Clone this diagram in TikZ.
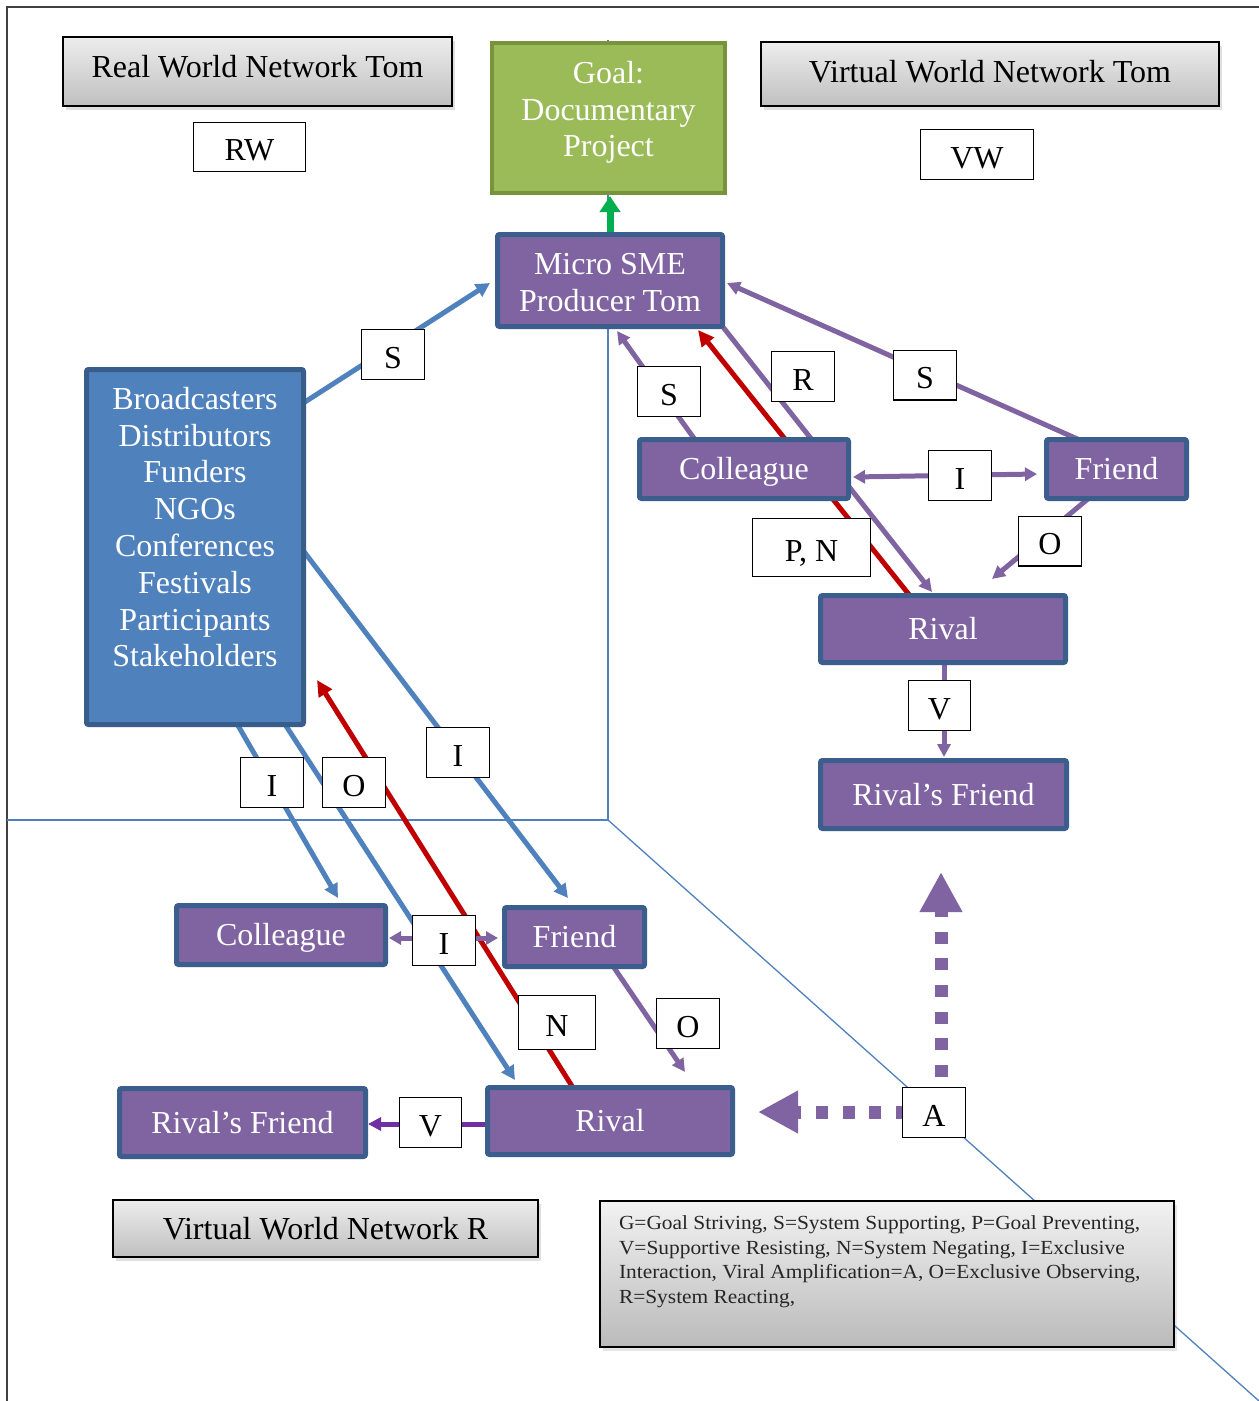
\documentclass[tikz,border=0pt]{standalone}
\usepackage{fontspec}
\setmainfont{Liberation Serif}
\newfontfamily\legendfont[FakeStretch=1.07]{Liberation Serif}
\usetikzlibrary{arrows.meta,calc,shadows,backgrounds}
\definecolor{purp}{HTML}{8064A2}
\definecolor{pborder}{HTML}{3B5E8C}
\definecolor{bluef}{HTML}{4F81BD}
\definecolor{blueb}{HTML}{385D8A}
\definecolor{greenf}{HTML}{9BBB59}
\definecolor{greenb}{HTML}{77933C}
\definecolor{redl}{HTML}{C00000}
\definecolor{greenl}{HTML}{00B050}
\definecolor{darkpurp}{HTML}{7030A0}
\definecolor{framec}{HTML}{404040}
\newcommand{\fbig}{\fontsize{32}{36.8}\selectfont}
\newcommand{\fsmall}{\legendfont\fontsize{20}{24.5}\selectfont}
\begin{document}
\begin{tikzpicture}[x=1pt,y=-1pt,
  pbox/.style={draw=pborder,line width=5pt,fill=purp,text=white,font=\fbig,inner sep=0pt,rounded corners=2pt,text height=21.5pt,text depth=0pt},
  pboxm/.style={draw=pborder,line width=5pt,fill=purp,text=white,font=\fbig,inner sep=0pt,rounded corners=2pt},
  bbox/.style={draw=blueb,line width=5pt,fill=bluef,text=white,font=\fbig,inner sep=0pt,rounded corners=2pt},
  gbox/.style={draw=greenb,line width=4pt,fill=greenf,text=white,font=\fbig,inner sep=0pt},
  lab/.style={draw=black,line width=1.3pt,fill=white,font=\fbig,inner sep=0pt,text height=27pt,text depth=0pt,minimum width=62.7pt,minimum height=49.7pt},
  ttl/.style={draw=black,line width=2pt,top color=black!7,bottom color=black!25,font=\fbig,inner sep=0pt,text height=21.5pt,drop shadow={shadow xshift=3pt,shadow yshift=-4pt,opacity=0.25}},
  bl/.style={bluef,line width=5pt,-{Triangle[length=14pt,width=14pt]}},
  pl/.style={purp,line width=5pt,-{Triangle[length=13pt,width=13pt]}},
  pll/.style={purp,line width=5pt,{Triangle[length=12pt,width=13pt]}-{Triangle[length=12pt,width=13pt]}},
  rl/.style={redl,line width=5pt,-{Triangle[length=16pt,width=15pt]}},
  divl/.style={bluef,line width=1.3pt},
  dotsarrow/.style={purp,line width=13pt,dash pattern=on 12pt off 14.7pt,-{Triangle[length=40pt,width=40pt]}}
]
\useasboundingbox (0,0) rectangle (1259,1401);

% ---------- boxes ----------
\node[ttl,minimum width=389pt,minimum height=69pt,text depth=9pt] (rwt) at (257.5,71.5) {Real World Network Tom};
\node[lab,minimum width=111.7pt,minimum height=48.7pt,text height=27pt] (rw) at (249.5,147) {RW};
\node[ttl,minimum width=458pt,minimum height=64pt,text depth=4.5pt] (vwt) at (990,74) {Virtual World Network Tom};
\node[lab,minimum width=112.7pt,minimum height=49.7pt,text height=28pt] (vw) at (977,154.5) {VW};
\node[ttl,minimum width=425pt,minimum height=57pt,text depth=0pt] (vwr) at (325.5,1228.5) {Virtual World Network R};

\node[gbox,minimum width=233pt,minimum height=150pt] (goal) at (608.5,118) {\parbox[c][114pt][t]{230pt}{\centering Goal:\\Documentary\\Project}};
\node[pboxm,minimum width=225pt,minimum height=92pt] (micro) at (610,280.5) {\parbox[c][54pt][t]{220pt}{\centering Micro SME\\Producer Tom}};
\node[bbox,minimum width=217pt,minimum height=355pt] (bcast) at (195,547) {\parbox[c][320pt][t]{215pt}{\centering Broadcasters\\Distributors\\Funders\\NGOs\\Conferences\\Festivals\\Participants\\Stakeholders}};

\node[pbox,minimum width=209pt,minimum height=59pt] (colV) at (744,469) {Colleague};
\node[pbox,minimum width=140pt,minimum height=59pt] (friV) at (1116.5,469) {Friend};
\node[pbox,minimum width=245pt,minimum height=67pt] (rivV) at (943,629) {Rival};
\node[pbox,minimum width=246pt,minimum height=68pt] (rfV) at (943.5,794.5) {Rival’s Friend};
\node[pbox,minimum width=209pt,minimum height=59pt] (colR) at (281,935) {Colleague};
\node[pbox,minimum width=140pt,minimum height=59pt] (friR) at (574.5,937) {Friend};
\node[pbox,minimum width=245pt,minimum height=67pt] (rivR) at (610,1121) {Rival};
\node[pbox,minimum width=246pt,minimum height=68pt] (rfR) at (242.5,1122.5) {Rival’s Friend};

\node[draw=black,line width=2pt,top color=black!5,bottom color=black!27,inner sep=0pt,minimum width=574pt,minimum height=146pt,font=\fsmall,text=black!85,drop shadow={shadow xshift=3pt,shadow yshift=-4pt,opacity=0.2}] (legend) at (887,1274)
  {\parbox[c][116pt][t]{536pt}{\raggedright G=Goal Striving, S=System Supporting, P=Goal Preventing,\\V=Supportive Resisting, N=System Negating, I=Exclusive\\Interaction, Viral Amplification=A, O=Exclusive Observing,\\R=System Reacting,}};

% ---------- labels ----------
\node[lab] (sL) at (393,354.5) {S};
\node[lab] (sM) at (669,391.5) {S};
\node[lab] (rLab) at (803,376.5) {R};
\node[lab] (sR) at (925,375) {S};
\node[lab] (iV) at (960,475.5) {I};
\node[lab,minimum width=117.7pt,minimum height=57.7pt,text height=28pt] (pn) at (811.5,547.5) {P, N};
\node[lab] (oV) at (1050,541) {O};
\node[lab,minimum width=61.7pt] (vV) at (939.5,705.5) {V};
\node[lab] (iL) at (272,782.5) {I};
\node[lab] (oL) at (354,782.5) {O};
\node[lab] (iM) at (458,752.5) {I};
\node[lab] (iB) at (444,940.5) {I};
\node[lab,minimum width=76.7pt,minimum height=53.7pt,text height=28pt] (nLab) at (557,1022.5) {N};
\node[lab] (oB) at (688,1023.5) {O};
\node[lab,minimum width=61.7pt] (vB) at (430.5,1122.5) {V};
\node[lab] (aLab) at (934,1112.5) {A};

% ---------- background: frame, dividers, connectors ----------
\begin{pgfonlayer}{background}
\fill[white] (0,0) rectangle (1259,1401);
\draw[framec,line width=1.8pt] (7,1401) -- (7,7) -- (1259,7);
\draw[divl] (608,40) -- (608,820) -- (7,820);
\draw[divl] (608,820) -- (1259,1401);

% goal striving
\draw[greenl,line width=7pt,-{Triangle[length=16pt,width=20pt]}] ($(micro.center)+(0,-46)$) -- ($(goal.center)+(1.5,78)$);

% real world (blue)
\draw[bl] ($(bcast.center)+(106.3,-142.7)$) -- ($(micro.center)+(-120,2.5)$);
\draw[bl] ($(bcast.center)+(108.2,3.6)$) -- ($(friR.center)+(-6.5,-39)$);
\draw[bl] ($(bcast.center)+(41,175.1)$) -- ($(colR.center)+(57,-37)$);
\draw[bl] ($(bcast.center)+(88.7,175.3)$) -- ($(rivR.center)+(-95,-41)$);
\draw[rl] ($(rivR.center)+(-35.7,-31.2)$) -- ($(bcast.center)+(122,133)$);

% virtual world Tom
\draw[pl] ($(colV.center)+(-46.3,-25.5)$) -- ($(micro.center)+(7,50.5)$);
\draw[rl] ($(rivV.center)+(-31,-30.7)$) -- ($(micro.center)+(88,49.5)$);
\draw[pl] ($(micro.center)+(108,40.2)$) -- ($(rivV.center)+(-11,-37)$);
\draw[pl] ($(friV.center)+(-36.2,-28.7)$) -- ($(micro.center)+(117,2.5)$);
\draw[pll] ($(colV.center)+(109,8)$) -- ($(friV.center)+(-79.5,5)$);
\draw[pl] ($(friV.center)+(-27.4,28.9)$) -- ($(rivV.center)+(49,-50)$);
\draw[pl] ($(rivV.center)+(1,30)$) -- ($(rfV.center)+(0.5,-37.5)$);

% virtual world R
\draw[pll] ($(colR.center)+(108,3)$) -- ($(friR.center)+(-76.5,1)$);
\draw[pl] ($(friR.center)+(38,28.4)$) -- ($(rivR.center)+(75,-49)$);
\draw[darkpurp,line width=5pt,-{Triangle[length=13pt,width=13pt]}] ($(rivR.center)+(-118,3)$) -- ($(rfR.center)+(125.5,1.5)$);

% viral amplification
\draw[dotsarrow] ($(aLab.center)+(-26,-0.5)$) -- ($(aLab.center)+(-176,-0.5)$);
\draw[dotsarrow] ($(aLab.center)+(7,-35.5)$) -- ($(aLab.center)+(7,-240.5)$);
\end{pgfonlayer}
\end{tikzpicture}
\end{document}
